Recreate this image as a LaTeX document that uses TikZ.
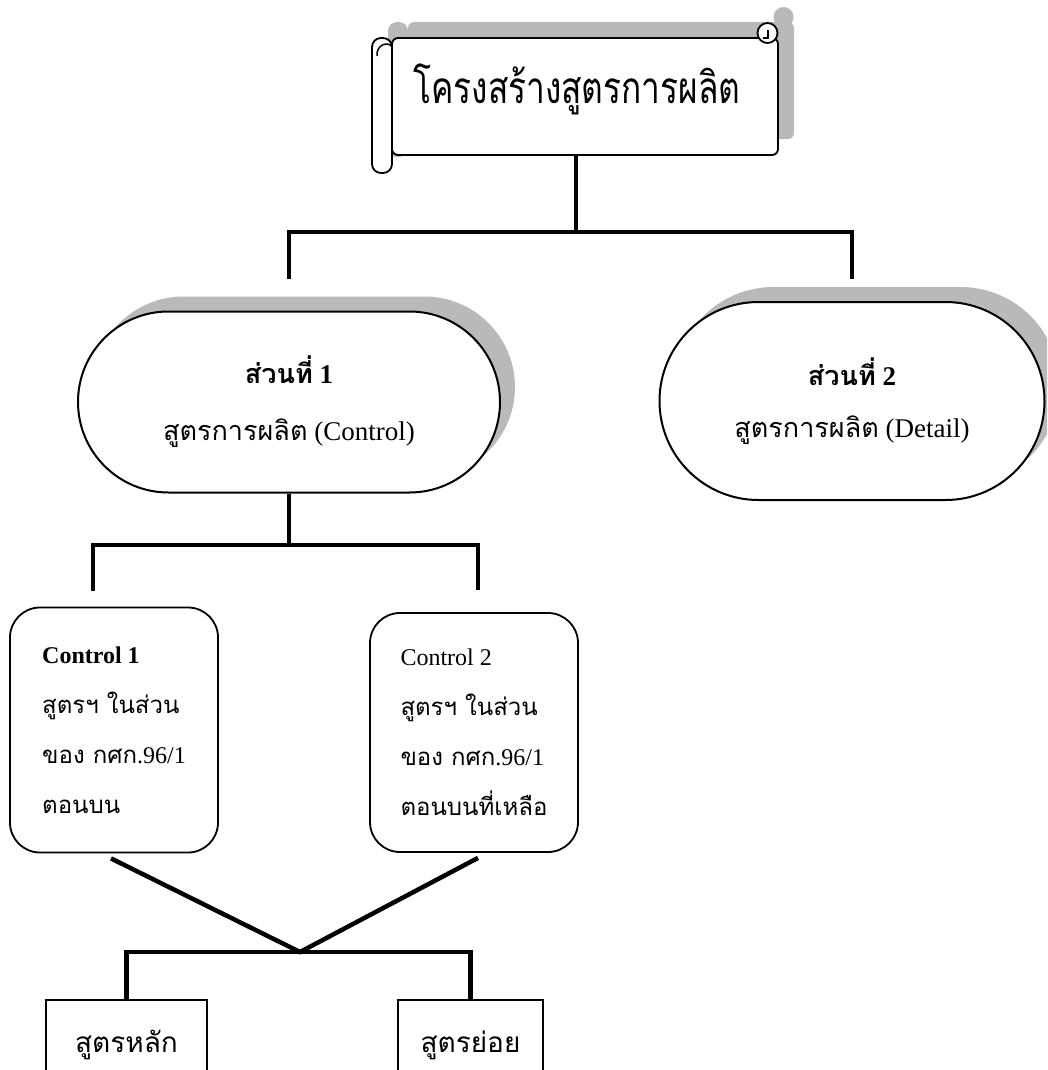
\documentclass[tikz,border=0pt]{standalone}
\usepackage{graphicx}
\usepackage{fontspec}
\setmainfont{Liberation Serif}
\newfontfamily\thaifont[Script=Thai]{Loma}
\usetikzlibrary{shapes.misc,shadows,positioning}

\tikzset{
  conn/.style={line width=4.5pt},
  shade/.style={fill=gray!55},
  scrollline/.style={line width=1.8pt, fill=white},
  partbox/.style={rounded rectangle, draw, line width=2pt, fill=white, align=center, inner sep=0pt,
    drop shadow={shadow xshift=15pt, shadow yshift=15pt, fill=gray!55, opacity=1}},
  ctrlbox/.style={rectangle, rounded corners=30pt, draw, line width=1.8pt, align=left,
    minimum width=208pt, font=\fontsize{24}{50}\selectfont},
  formbox/.style={rectangle, draw, line width=1.5pt, minimum height=90pt,
    font=\thaifont\fontsize{28}{32}\selectfont}
}

\begin{document}
\begin{tikzpicture}[x=1pt,y=-1pt]
  \useasboundingbox (0,0) rectangle (1047,1070);
  \clip (0,0) rectangle (1047,1070);

  % scroll shadow
  \begin{scope}[shift={(16,-16)}]
    \fill[shade, rounded corners=6pt] (392,38) rectangle (778,155);
    \fill[shade, rounded corners=9pt] (372,38) rectangle (392,173);
    \fill[shade] (767.5,33) circle (10);
  \end{scope}
  % scroll
  \node[minimum width=386pt, minimum height=117pt, inner sep=0pt] (scroll) at (585,96.5) {};
  \draw[scrollline, rounded corners=6pt] (392,38) -- (778,38) -- (778,155) -- (392,155) -- cycle;
  \draw[scrollline] (767.5,33) circle (10);
  \draw[line width=1.8pt] (768,30) -- (768,38) -- (763,38);
  \draw[scrollline, rounded corners=9pt] (372,38) rectangle (392,173);
  \draw[line width=1.5pt] (377,56) .. controls (376,44) and (389,41) .. (392,47);
  \node[font=\thaifont\fontsize{44}{50}\selectfont, anchor=base] (title) at (577,104)
    {\scalebox{0.76}[1]{โครงสร้างสูตรการผลิต}};

  % part 1 / part 2
  \node[partbox, minimum width=422pt, minimum height=181pt, font=\fontsize{27}{57}\selectfont]
    (part1) at (289,402) {{\thaifont\bfseries ส่วนที่} \textbf{1}\\{\thaifont สูตรการผลิต} (Control)};
  \node[partbox, minimum width=385pt, minimum height=198pt, font=\fontsize{27}{52}\selectfont]
    (part2) at (852,401) {{\thaifont\bfseries ส่วนที่} \textbf{2}\\{\thaifont สูตรการผลิต} (Detail)};

  \coordinate (top) at (576,232);
  \draw[conn] (scroll.south -| top) -- (top);
  \draw[conn] ([yshift=32pt]part1.north) |- (top) -| ([yshift=22pt]part2.north);

  % control boxes
  \node[ctrlbox, minimum height=245pt] (ctrlA) at (114,730)
    {\textbf{Control 1}\\{\thaifont สูตรฯ ในส่วน}\\{\thaifont ของ กศก}.96/1\\{\thaifont ตอนบน}};
  \node[ctrlbox, minimum height=239pt] (ctrlB) at (474,732.5)
    {Control 2\\{\thaifont สูตรฯ ในส่วน}\\{\thaifont ของ กศก}.96/1\\{\thaifont ตอนบนที่เหลือ}};

  \coordinate (mid) at (289,545);
  \draw[conn] (part1.south) -- (mid);
  \draw[conn] ([xshift=-21pt,yshift=16pt]ctrlA.north) |- (mid) -| ([xshift=4pt,yshift=22pt]ctrlB.north);

  % formula boxes
  \node[formbox, minimum width=161pt] (mainf) at (126.5,1045) {สูตรหลัก};
  \node[formbox, minimum width=145pt] (subf) at (470.5,1045) {สูตรย่อย};

  \coordinate (meet) at (300,952);
  \draw[conn] ([xshift=-3pt,yshift=-5pt]ctrlA.south) -- (meet) -- ([xshift=4pt,yshift=-5pt]ctrlB.south);
  \draw[conn] (mainf.north) |- (meet) -| (subf.north);
\end{tikzpicture}
\end{document}
